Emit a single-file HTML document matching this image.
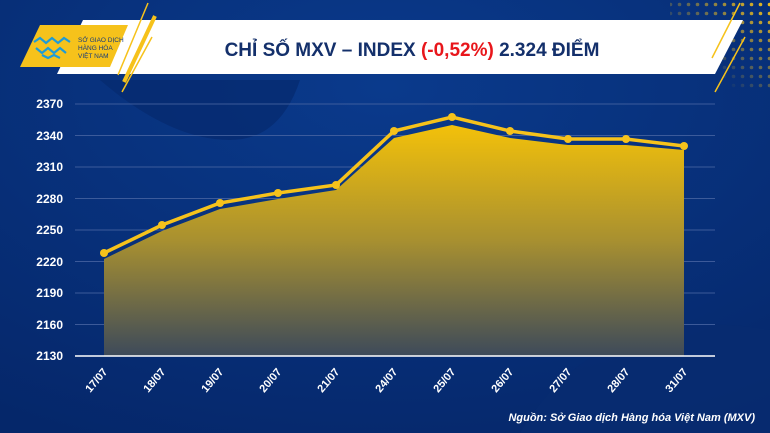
<!DOCTYPE html>
<html><head><meta charset="utf-8"><style>
body{margin:0;width:770px;height:433px;overflow:hidden;background:#062a72;font-family:"Liberation Sans",sans-serif}
</style></head><body>
<svg width="770" height="433" viewBox="0 0 770 433" style="position:absolute;left:0;top:0">
<defs>
<linearGradient id="ar" x1="0" y1="0" x2="0" y2="1">
<stop offset="0" stop-color="#f3c10a"/><stop offset="0.5" stop-color="#a89030"/><stop offset="1" stop-color="#3d4a5a"/>
</linearGradient>
<radialGradient id="bg" cx="0.5" cy="0.2" r="0.9"><stop offset="0" stop-color="#0a3a8c"/><stop offset="1" stop-color="#05276a"/></radialGradient>
<pattern id="dots" x="0" y="0" width="9" height="9" patternUnits="userSpaceOnUse"><circle cx="4.5" cy="4.5" r="1.8" fill="#f6c21b"/></pattern>
<linearGradient id="dm" x1="1" y1="0" x2="0" y2="1"><stop offset="0" stop-color="#fff"/><stop offset="0.7" stop-color="#fff" stop-opacity="0"/></linearGradient>
<mask id="m"><rect x="670" y="0" width="100" height="90" fill="url(#dm)"/></mask>
</defs>
<rect width="770" height="433" fill="url(#bg)"/>
<path d="M100 80 Q170 140 230 140 Q280 140 300 80 Z" fill="#052a6e" opacity="0.7"/>
<path d="M520 433 Q600 300 770 330 L770 433Z" fill="#072c70" opacity="0.8"/>
<rect x="670" y="0" width="100" height="90" fill="url(#dots)" mask="url(#m)"/>
<polygon points="83,20 743,20 715,74 57,74" fill="#fff"/>
<polygon points="40,25 128,25 110,67 20,67" fill="#f6c21b"/>
<line x1="148" y1="3" x2="118" y2="75" stroke="#f6c21b" stroke-width="1.5"/>
<line x1="155" y1="16" x2="124" y2="82" stroke="#f6c21b" stroke-width="4"/>
<line x1="152" y1="37" x2="122" y2="92" stroke="#f6c21b" stroke-width="1.5"/>
<line x1="740" y1="3" x2="712" y2="58" stroke="#f6c21b" stroke-width="1.5"/>
<line x1="745" y1="37" x2="715" y2="92" stroke="#f6c21b" stroke-width="1.5"/>
<g fill="none" stroke="#1e9bd7" stroke-width="2.2"><path d="M34 42 l6 -4 l6 5 l6 -5 l6 5 l6 -5 l6 4"/><path d="M36 48 l6 5 l6 -5 l6 5 l6 -5 l6 5"/><path d="M42 55 l6 3 l6 -3 l6 3"/></g>
<text x="78" y="42" font-size="6.5" fill="#173b7a">SỞ GIAO DỊCH</text>
<text x="78" y="50" font-size="6.5" fill="#173b7a">HÀNG HÓA</text>
<text x="78" y="58" font-size="6.5" fill="#173b7a">VIỆT NAM</text>
<text x="412" y="56" text-anchor="middle" font-size="19" font-weight="bold" fill="#14306b">CHỈ SỐ MXV – INDEX <tspan fill="#e8161b">(-0,52%)</tspan> 2.324 ĐIỂM</text>
<g stroke="#4a66a3" stroke-width="1" opacity="0.8">
<line x1="75" y1="104" x2="715" y2="104"/><line x1="75" y1="135.5" x2="715" y2="135.5"/><line x1="75" y1="167" x2="715" y2="167"/><line x1="75" y1="198.5" x2="715" y2="198.5"/><line x1="75" y1="230" x2="715" y2="230"/><line x1="75" y1="261.5" x2="715" y2="261.5"/><line x1="75" y1="293" x2="715" y2="293"/><line x1="75" y1="324.5" x2="715" y2="324.5"/>
</g>
<polygon points="104,259 162,231 220,209 278,199 336,190 394,138 452,125 510,138 568,145 626,145 684,150 684,356 104,356" fill="url(#ar)"/>
<line x1="75" y1="356" x2="715" y2="356" stroke="#fff" stroke-width="1.5"/>
<polyline points="104,253 162,225 220,203 278,193 336,185 394,131 452,117 510,131 568,139 626,139 684,146" fill="none" stroke="#f6c21b" stroke-width="3.5"/>
<g fill="#f6c21b"><circle cx="104" cy="253" r="4"/><circle cx="162" cy="225" r="4"/><circle cx="220" cy="203" r="4"/><circle cx="278" cy="193" r="4"/><circle cx="336" cy="185" r="4"/><circle cx="394" cy="131" r="4"/><circle cx="452" cy="117" r="4"/><circle cx="510" cy="131" r="4"/><circle cx="568" cy="139" r="4"/><circle cx="626" cy="139" r="4"/><circle cx="684" cy="146" r="4"/></g>
<g font-size="12" font-weight="bold" fill="#fff" text-anchor="end">
<text x="63" y="108">2370</text><text x="63" y="140">2340</text><text x="63" y="171">2310</text><text x="63" y="203">2280</text><text x="63" y="234">2250</text><text x="63" y="266">2220</text><text x="63" y="297">2190</text><text x="63" y="329">2160</text><text x="63" y="360">2130</text>
</g>
<g font-size="11" font-weight="bold" fill="#fff" text-anchor="end">
<text transform="translate(108,372) rotate(-50)">17/07</text><text transform="translate(166,372) rotate(-50)">18/07</text><text transform="translate(224,372) rotate(-50)">19/07</text><text transform="translate(282,372) rotate(-50)">20/07</text><text transform="translate(340,372) rotate(-50)">21/07</text><text transform="translate(398,372) rotate(-50)">24/07</text><text transform="translate(456,372) rotate(-50)">25/07</text><text transform="translate(514,372) rotate(-50)">26/07</text><text transform="translate(572,372) rotate(-50)">27/07</text><text transform="translate(630,372) rotate(-50)">28/07</text><text transform="translate(688,372) rotate(-50)">31/07</text>
</g>
<text x="755" y="421" text-anchor="end" font-size="11" font-weight="bold" font-style="italic" fill="#fff">Nguồn: Sở Giao dịch Hàng hóa Việt Nam (MXV)</text>
</svg>
</body></html>
